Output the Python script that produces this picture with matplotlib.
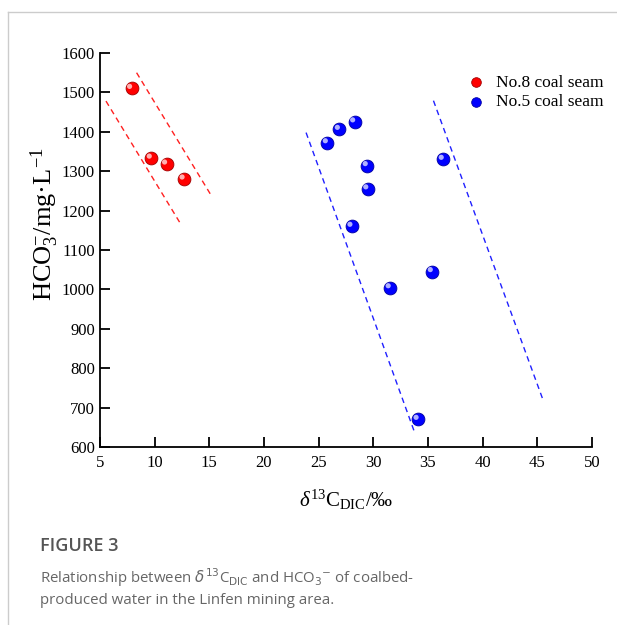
import matplotlib
matplotlib.use('Agg')
import matplotlib.pyplot as plt
from matplotlib.transforms import offset_copy
from matplotlib.lines import Line2D

# data
no8_x = [7.9, 9.7, 11.1, 12.7]
no8_y = [1510, 1333, 1318, 1280]

no5_x = [25.8, 26.9, 28.3, 29.45, 29.5, 28.05, 36.4, 35.4, 31.55, 34.1]
no5_y = [1372, 1406, 1425, 1314, 1255, 1160, 1330, 1045, 1004, 670]

# boundary dashed lines (x0, x1), (y0, y1)
red_lines = [([5.55, 12.45], [1478, 1163]), ([8.35, 15.25], [1550, 1235])]
blue_lines = [([23.85, 33.75], [1398, 639]), ([35.5, 45.5], [1479, 721])]

xticks = [5, 10, 15, 20, 25, 30, 35, 40, 45, 50]
yticks = [600, 700, 800, 900, 1000, 1100, 1200, 1300, 1400, 1500, 1600]

plt.rcParams['font.family'] = ['Liberation Serif', 'DejaVu Serif']
plt.rcParams['mathtext.fontset'] = 'custom'
plt.rcParams['mathtext.rm'] = 'Liberation Serif'
plt.rcParams['mathtext.it'] = 'Liberation Serif:italic'

fig = plt.figure(figsize=(6.17, 6.25), dpi=100)
ax = fig.add_axes([0.162, 0.2848, 0.7975, 0.6304])


def spheres(x, y, col, dark, light, label):
    h = ax.scatter(x, y, s=85, c=col, edgecolors=dark, linewidths=0.6, zorder=3, label=label)
    tr = offset_copy(ax.transData, fig=fig, x=-1.5, y=1.5, units='points')
    ax.scatter(x, y, s=14, c=light, edgecolors='none', zorder=4, transform=tr)
    return h


for xs, ys in red_lines:
    ax.plot(xs, ys, color='#ff2020', lw=1.0, ls=(0, (4, 3)))
for xs, ys in blue_lines:
    ax.plot(xs, ys, color='#2020ff', lw=1.0, ls=(0, (4, 3)))

h8 = spheres(no8_x, no8_y, '#ff0000', '#a00000', '#ffb0b0', 'No.8 coal seam')
h5 = spheres(no5_x, no5_y, '#0000ff', '#0000a0', '#b0b0ff', 'No.5 coal seam')

ax.set_xlim(5, 50)
ax.set_ylim(600, 1600)
ax.set_xticks(xticks)
ax.set_yticks(yticks)
ax.spines['top'].set_visible(False)
ax.spines['right'].set_visible(False)
ax.spines['left'].set_linewidth(1.3)
ax.spines['bottom'].set_linewidth(1.3)
ax.tick_params(direction='in', length=7, width=1.3, labelsize=12)
ax.tick_params(axis='x', pad=6)
for lbl in ax.get_xticklabels() + ax.get_yticklabels():
    lbl.set_fontfamily('Liberation Serif')

ax.set_xlabel(r'$\delta^{13}$C$_{\rm DIC}$/‰', fontsize=15, labelpad=12)
ax.set_ylabel(r'HCO$_3^{-}$/mg·L$^{-1}$', fontsize=19)
ax.yaxis.set_label_coords(-0.08, 0.565)

ax.legend(handles=[h8, h5], loc='upper right', bbox_to_anchor=(1.055, 0.985), frameon=False,
          fontsize=12.5, handletextpad=0.15, labelspacing=0.2, markerscale=0.75)

# page border and caption
fig.add_artist(Line2D([8 / 617, 1], [1 - 12 / 625] * 2, color='#cccccc', lw=1))
fig.add_artist(Line2D([8 / 617] * 2, [0, 1 - 12 / 625], color='#cccccc', lw=1))
fig.text(40 / 617, 1 - 546 / 625, 'FIGURE 3', family='Open Sans', fontsize=13,
         color='#555555', va='center', weight='semibold')
fig.text(40 / 617, 1 - 578 / 625,
         r'Relationship between $\it{\delta}^{13}$C$_{\rm DIC}$ and HCO$_3$$^{-}$ of coalbed-',
         family='Open Sans', fontsize=10.8, color='#666666', va='center', math_fontfamily='dejavusans')
fig.text(40 / 617, 1 - 601 / 625, 'produced water in the Linfen mining area.',
         family='Open Sans', fontsize=10.8, color='#666666', va='center')

fig.savefig('out.png', dpi=100)
